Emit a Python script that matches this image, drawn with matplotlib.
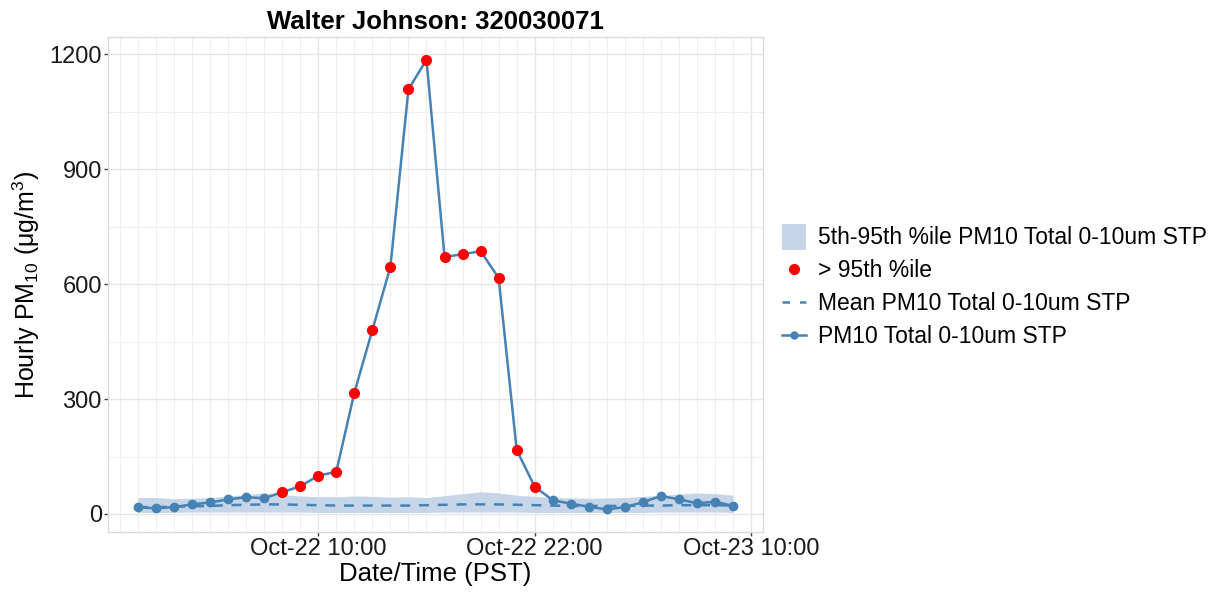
import numpy as np
import pandas as pd
import matplotlib
matplotlib.use("Agg")
import matplotlib.pyplot as plt
import matplotlib.dates as mdates
from matplotlib.lines import Line2D
from matplotlib.patches import Patch, Rectangle
from matplotlib.legend_handler import HandlerPatch

plt.rcParams['font.family'] = ['Liberation Sans', 'DejaVu Sans']
plt.rcParams['mathtext.fontset'] = 'custom'
plt.rcParams['mathtext.rm'] = 'Liberation Sans'
plt.rcParams['mathtext.it'] = 'Liberation Sans:italic'

# hourly values, Oct-22 00:00 .. Oct-23 09:00 (PST)
times = pd.date_range("2023-10-22 00:00", periods=34, freq="h")
pm10 = [17, 15, 18, 25, 30, 38, 44, 41, 57, 72, 100, 110, 316, 480,
        645, 1108, 1186, 671, 678, 686, 616, 167, 71, 36, 27, 19,
        12, 18, 31, 47, 38, 28, 32, 21]
pct95 = [43, 43, 40, 41, 43, 47, 51, 55, 51, 47, 45, 45, 47, 46,
         44, 45, 43, 48, 53, 58, 55, 49, 46, 43, 42, 41, 42, 43,
         46, 49, 52, 55, 53, 49]
pct05 = [4, 4, 4, 5, 5, 5, 5, 5, 5, 5, 4, 4, 4, 4,
         4, 4, 4, 5, 5, 5, 5, 5, 4, 4, 4, 4, 4, 4,
         4, 5, 5, 5, 5, 4]
mean = [18, 18, 19, 20, 21, 23, 24, 25, 25, 24, 23, 22, 22, 22,
        22, 22, 23, 24, 25, 25, 25, 24, 23, 22, 21, 21, 21, 21,
        22, 22, 23, 23, 23, 22]
high = [v > p for v, p in zip(pm10, pct95)]

line_col = "#4682B4"
band_col = "#c6d6e8"


class TallPatch(HandlerPatch):
    # square-ish legend key for the ribbon
    def create_artists(self, legend, orig, xd, yd, width, height, fontsize, trans):
        h = height * 1.6
        r = Rectangle((xd, yd + height / 2 - h / 2 - 1), width, h,
                      facecolor=orig.get_facecolor(), edgecolor="none", transform=trans)
        return [r]


fig = plt.figure(figsize=(12.19, 5.92), dpi=100)
ax = fig.add_axes([108/1219, 60/592, 655/1219, 495/592])

ax.fill_between(times, pct05, pct95, color=band_col, lw=0, zorder=1)
ax.plot(times, mean, color=line_col, lw=1.8, ls=(0, (4, 3.5)), zorder=2)
ax.plot(times, pm10, color=line_col, lw=1.8, marker="o", ms=6, zorder=3)
red_t = [t for t, h in zip(times, high) if h]
red_v = [v for v, h in zip(pm10, high) if h]
ax.plot(red_t, red_v, ls="none", marker="o", ms=7, color="red", zorder=4)

span = times[-1] - times[0]
ax.set_xlim(times[0] - span * 0.05, times[-1] + span * 0.05)
ax.set_ylim(-47, 1245)

ax.set_yticks([0, 300, 600, 900, 1200])
ax.set_yticks([150, 450, 750, 1050], minor=True)
ax.set_xticks(pd.to_datetime(["2023-10-22 10:00", "2023-10-22 22:00", "2023-10-23 10:00"]))
ax.xaxis.set_major_formatter(mdates.DateFormatter("%b-%d %H:%M"))
ax.xaxis.set_minor_locator(mdates.HourLocator())

ax.grid(which="major", color="#e6e6e6", lw=1.0)
ax.grid(which="minor", color="#efefef", lw=0.8)
ax.set_axisbelow(True)
for s in ax.spines.values():
    s.set_color("#dcdcdc")
    s.set_linewidth(1.0)

ax.tick_params(axis="both", which="major", labelsize=17, length=3, width=1,
               color="#444444", labelcolor="#1a1a1a", pad=1.5)
ax.tick_params(axis="both", which="minor", length=0)

ax.set_xlabel("Date/Time (PST)", fontsize=18.5, labelpad=1)
ax.set_ylabel(r"Hourly PM$_{10}$ ($\mathrm{\mu}$g/m$^{3}$)", fontsize=18, labelpad=5)
ax.set_title("Walter Johnson: 320030071", fontsize=18.5, fontweight="bold", pad=6)

handles = [
    Patch(facecolor=band_col, edgecolor="none"),
    Line2D([], [], ls="none", marker="o", ms=7, color="red"),
    Line2D([], [], color=line_col, lw=1.8, ls=(0, (3, 4))),
    Line2D([], [], color=line_col, lw=1.8, marker="o", ms=5),
]
labels = ["5th-95th %ile PM10 Total 0-10um STP", "> 95th %ile",
          "Mean PM10 Total 0-10um STP", "PM10 Total 0-10um STP"]
fig.legend(handles, labels, loc="center left", bbox_to_anchor=(773/1219, (592 - 287)/592),
           frameon=False, fontsize=16.5, handlelength=1.05, handletextpad=0.5,
           labelspacing=0.45, borderaxespad=0,
           handler_map={Patch: TallPatch()})

fig.savefig("out.png", dpi=100)
